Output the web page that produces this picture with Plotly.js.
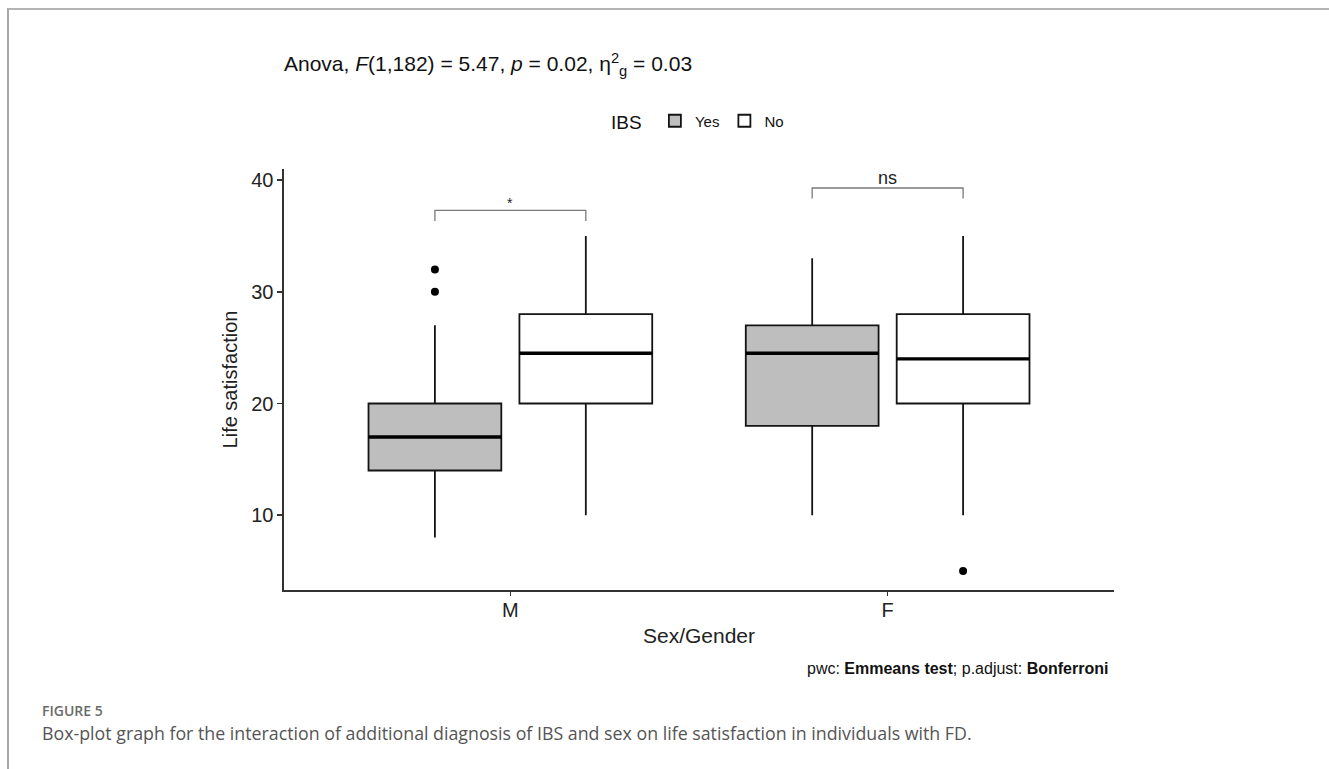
<!DOCTYPE html>
<html><head><meta charset="utf-8">
<script src="https://cdn.plot.ly/plotly-3.0.1.min.js"></script>
<style>
html,body{margin:0;padding:0;background:#fff;}
#chart{width:1329px;height:769px;}
#frame{position:absolute;left:7px;top:8px;width:1322px;height:761px;border-top:2px solid #b4b4b4;border-left:2px solid #a8a8a8;pointer-events:none;box-sizing:border-box;}
</style></head><body>
<div id="chart"></div><div id="frame"></div>
<script>
// ---- data ----
const sexCategories = ['M', 'F'];
const ibsLevels = ['Yes', 'No'];

const yesQ1 = [14, 18];
const yesMedian = [17, 24.5];
const yesQ3 = [20, 27];
const yesLowerWhisker = [8, 10];
const yesUpperWhisker = [27, 33];
const yesOutliers = [[32, 30], [null]];

const noQ1 = [20, 20];
const noMedian = [24.5, 24];
const noQ3 = [28, 28];
const noLowerWhisker = [10, 10];
const noUpperWhisker = [35, 35];
const noOutliers = [[null], [5]];

const yTickValues = [10, 20, 30, 40];
const bracketLabels = ['*', 'ns'];
const bracketHeights = [37.3, 39.3];

// ---- styling ----
const FONT = 'Liberation Sans, Arial, sans-serif';
const BOXGAP = 0.2, BOXGROUPGAP = 0.12;
const dodge = (1 - BOXGAP) / 4;   // centre offset of each box in a group (Plotly box grouping)
const fills = {Yes: '#bebebe', No: '#ffffff'};

function boxTrace(name, q1, med, q3, lf, uf, pts) {
  return {
    type: 'box', name: name, x: sexCategories, y: pts,
    q1: q1, median: med, q3: q3, lowerfence: lf, upperfence: uf,
    boxpoints: 'outliers', pointpos: 0, jitter: 0,
    marker: {color: '#000000', size: 8},
    line: {color: '#141414', width: 1.8},
    fillcolor: fills[name], whiskerwidth: 0,
    offsetgroup: name, legendgroup: name, hoverinfo: 'y'
  };
}
function medianTrace(name, med) {
  return {
    type: 'box', name: name + ' median', x: sexCategories,
    q1: med, median: med, q3: med, lowerfence: med, upperfence: med,
    boxpoints: false, line: {color: '#000000', width: 3.4},
    fillcolor: 'rgba(0,0,0,0)', whiskerwidth: 0,
    offsetgroup: name, legendgroup: name, showlegend: false, hoverinfo: 'skip'
  };
}

const traces = [
  boxTrace(ibsLevels[0], yesQ1, yesMedian, yesQ3, yesLowerWhisker, yesUpperWhisker, yesOutliers),
  boxTrace(ibsLevels[1], noQ1, noMedian, noQ3, noLowerWhisker, noUpperWhisker, noOutliers),
  medianTrace(ibsLevels[0], yesMedian),
  medianTrace(ibsLevels[1], noMedian)
];

const shapes = [];
const annotations = [];
sexCategories.forEach((c, i) => {
  const y = bracketHeights[i], tip = 0.95;
  const x0 = i - dodge, x1 = i + dodge;
  shapes.push({
    type: 'path', xref: 'x', yref: 'y',
    path: `M ${x0},${y - tip} L ${x0},${y} L ${x1},${y} L ${x1},${y - tip}`,
    line: {color: '#7a7a7a', width: 1.3}
  });
  annotations.push({
    xref: 'x', yref: 'y', x: i, y: y + (bracketLabels[i] === '*' ? 0.7 : 0.85), yanchor: 'middle', showarrow: false,
    text: bracketLabels[i], font: {family: FONT, size: bracketLabels[i] === '*' ? 14 : 18, color: '#222'}
  });
});

// texts outside the plot
const L = 284, W = 830, T = 169, H = 421;
const px = v => (v - L) / W, py = v => (T + H - v) / H;
annotations.push({
  xref: 'paper', yref: 'paper', x: px(1110), y: py(668), xanchor: 'right', yanchor: 'middle',
  showarrow: false, font: {family: FONT, size: 16, color: '#111'},
  text: 'pwc: <b>Emmeans test</b>; p.adjust: <b>Bonferroni</b>'
});
annotations.push({
  xref: 'paper', yref: 'paper', x: px(40), y: py(710), xanchor: 'left', yanchor: 'middle',
  showarrow: false, font: {family: 'Open Sans, sans-serif', size: 14, color: '#6a6a6a', weight: 600},
  text: 'FIGURE 5'
});
annotations.push({
  xref: 'paper', yref: 'paper', x: px(40), y: py(733), xanchor: 'left', yanchor: 'middle',
  showarrow: false, font: {family: 'Open Sans, sans-serif', size: 17.8, color: '#555555'},
  text: 'Box-plot graph for the interaction of additional diagnosis of IBS and sex on life satisfaction in individuals with FD.'
});

const layout = {
  width: 1329, height: 769,
  margin: {l: L, r: 1329 - L - W, t: T, b: 769 - T - H},
  paper_bgcolor: '#ffffff', plot_bgcolor: '#ffffff',
  font: {family: FONT, color: '#222'},
  boxmode: 'group', boxgap: BOXGAP, boxgroupgap: BOXGROUPGAP,
  title: {
    text: 'Anova, <i>F</i>(1,182) = 5.47, <i>p</i> = 0.02, η<sup>2</sup><sub>g</sub> = 0.03',
    font: {family: FONT, size: 21, color: '#111'},
    xref: 'paper', x: 0, xanchor: 'left', yref: 'container', y: 1 - 64 / 769, yanchor: 'middle'
  },
  showlegend: true,
  legend: {
    orientation: 'h', x: 0.5, xanchor: 'center', y: py(122), yanchor: 'middle',
    title: {text: 'IBS ', font: {family: FONT, size: 19, color: '#111'}},
    font: {family: FONT, size: 15, color: '#111'}, itemwidth: 30
  },
  xaxis: {
    type: 'category', categoryorder: 'array', categoryarray: sexCategories,
    range: [-0.6, 1.6], showline: true, linecolor: '#333', linewidth: 1.6,
    ticks: 'outside', ticklen: 4, tickcolor: '#333', tickwidth: 1.4, ticklabelstandoff: -3,
    tickfont: {family: FONT, size: 20, color: '#222'}, showgrid: false, zeroline: false,
    title: {text: 'Sex/Gender', font: {family: FONT, size: 21, color: '#222'}, standoff: 9}
  },
  yaxis: {
    range: [3.3, 41.0], tickvals: yTickValues, showline: true, linecolor: '#333', linewidth: 1.6,
    ticks: 'outside', ticklen: 5, tickcolor: '#333', tickwidth: 1.4,
    tickfont: {family: FONT, size: 20, color: '#222'}, showgrid: false, zeroline: false,
    title: {text: 'Life satisfaction', font: {family: FONT, size: 20, color: '#222'}, standoff: 8}
  },
  shapes: shapes, annotations: annotations
};

Plotly.newPlot('chart', traces, layout, {displayModeBar: false, staticPlot: true});
</script>
</body></html>
